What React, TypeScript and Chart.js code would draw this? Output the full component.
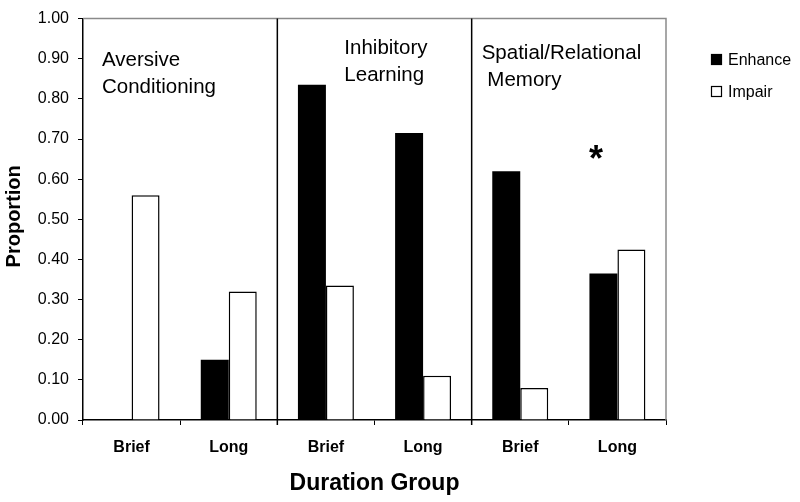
import React, { useEffect, useRef } from 'react';
import { Chart, registerables } from 'chart.js';

Chart.register(...registerables);

const categories = ['Brief', 'Long', 'Brief', 'Long', 'Brief', 'Long'];
const enhance = [0, 0.15, 0.835, 0.715, 0.62, 0.365];
const impair = [0.56, 0.32, 0.335, 0.11, 0.08, 0.425];
const seriesNames = ['Enhance', 'Impair'];
const groupNames = [
  ['Aversive', 'Conditioning'],
  ['Inhibitory', 'Learning'],
  ['Spatial/Relational', ' Memory'],
];
const yTicks = [0, 0.1, 0.2, 0.3, 0.4, 0.5, 0.6, 0.7, 0.8, 0.9, 1.0];
const yTitle = 'Proportion';
const xTitle = 'Duration Group';
const significance = [{ index: 5, value: 0.66, mark: '*' }];

const FONT = '"Liberation Sans", Arial, sans-serif';

const overlayPlugin = {
  id: 'overlay',
  afterDraw(chart: any) {
    const { ctx, chartArea } = chart;
    const x = chart.scales.x;
    const y = chart.scales.y;
    const { left, right, top, bottom } = chartArea;
    ctx.save();

    // top and right frame
    ctx.strokeStyle = '#8a8a8a';
    ctx.lineWidth = 1.5;
    ctx.beginPath();
    ctx.moveTo(left, top);
    ctx.lineTo(right, top);
    ctx.lineTo(right, bottom);
    ctx.stroke();

    // group dividers
    ctx.strokeStyle = '#000';
    ctx.lineWidth = 1.5;
    [1, 3].forEach((i) => {
      const px = (x.getPixelForValue(i) + x.getPixelForValue(i + 1)) / 2;
      ctx.beginPath();
      ctx.moveTo(px, top);
      ctx.lineTo(px, bottom + 5);
      ctx.stroke();
    });

    // group labels
    const labelLayout = [
      { dx: 19, v: 0.882 },
      { dx: 67, v: 0.912 },
      { dx: 10, v: 0.9 },
    ];
    ctx.fillStyle = '#000';
    ctx.font = `20.5px ${FONT}`;
    ctx.textAlign = 'left';
    ctx.textBaseline = 'alphabetic';
    groupNames.forEach((lines, g) => {
      const startIdx = g * 2;
      const gLeft =
        startIdx === 0
          ? left
          : (x.getPixelForValue(startIdx - 1) + x.getPixelForValue(startIdx)) / 2;
      const base = y.getPixelForValue(labelLayout[g].v);
      lines.forEach((t, li) => {
        ctx.fillText(t, gLeft + labelLayout[g].dx, base + li * 27);
      });
    });

    // significance marks
    ctx.font = `bold 36px ${FONT}`;
    ctx.textAlign = 'center';
    ctx.textBaseline = 'middle';
    significance.forEach((s) => {
      const cw = x.getPixelForValue(1) - x.getPixelForValue(0);
      ctx.fillText(s.mark, x.getPixelForValue(s.index) - cw * 0.22, y.getPixelForValue(s.value) + 6);
    });

    // y title
    ctx.save();
    ctx.font = `bold 20px ${FONT}`;
    ctx.textAlign = 'center';
    ctx.textBaseline = 'middle';
    ctx.translate(14, (top + bottom) / 2 - 3);
    ctx.rotate(-Math.PI / 2);
    ctx.fillText(yTitle, 0, 0);
    ctx.restore();

    // legend
    ctx.font = `16px ${FONT}`;
    ctx.textAlign = 'left';
    ctx.textBaseline = 'alphabetic';
    chart.data.datasets.forEach((ds: any, i: number) => {
      const bx = right + 45;
      const by = 54 + i * 32;
      ctx.fillStyle = ds.backgroundColor;
      ctx.fillRect(bx, by, 11, 11);
      ctx.strokeStyle = '#000';
      ctx.lineWidth = 1.2;
      ctx.strokeRect(bx + 0.5, by + 0.5, 10, 10);
      ctx.fillStyle = '#000';
      ctx.fillText(ds.label, bx + 17, by + 11);
    });

    ctx.restore();
  },
};

export default function App() {
  const ref = useRef<HTMLCanvasElement | null>(null);

  useEffect(() => {
    if (!ref.current) return;
    const chart = new Chart(ref.current, {
      type: 'bar',
      data: {
        labels: categories,
        datasets: [
          {
            label: seriesNames[0],
            data: enhance,
            backgroundColor: '#000',
            borderColor: '#000',
            borderWidth: 0,
            barPercentage: 1,
            categoryPercentage: 0.576,
          },
          {
            label: seriesNames[1],
            data: impair,
            backgroundColor: '#fff',
            borderColor: '#000',
            borderWidth: 1.5,
            barPercentage: 1,
            categoryPercentage: 0.576,
          },
        ],
      },
      options: {
        responsive: false,
        animation: false,
        devicePixelRatio: 1,
        layout: { padding: { top: 12, right: 134, left: 0, bottom: 0 } },
        plugins: {
          legend: { display: false },
          tooltip: { enabled: false },
        },
        scales: {
          x: {
            grid: {
              display: true,
              drawOnChartArea: false,
              drawTicks: true,
              tickLength: 5,
              color: '#000',
              offset: true,
            },
            border: { color: '#000', width: 1.5 },
            ticks: {
              color: '#000',
              font: { family: FONT, size: 16, weight: 'bold' },
              padding: 13,
              maxRotation: 0,
            },
            title: {
              display: true,
              text: xTitle,
              color: '#000',
              font: { family: FONT, size: 23, weight: 'bold' },
              padding: { top: 0, bottom: 5 },
            },
            afterFit(scale: any) {
              scale.height = 82;
            },
          },
          y: {
            min: 0,
            max: 1,
            afterBuildTicks(scale: any) {
              scale.ticks = yTicks.map((v) => ({ value: v }));
            },
            grid: {
              display: true,
              drawOnChartArea: false,
              drawTicks: true,
              tickLength: 5,
              color: '#000',
            },
            border: { color: '#000', width: 1.5 },
            ticks: {
              color: '#000',
              font: { family: FONT, size: 16 },
              padding: 9,
              callback: (v: any) => Number(v).toFixed(2),
            },
            title: { display: false },
            afterFit(scale: any) {
              scale.width = 83;
            },
          },
        },
      },
      plugins: [overlayPlugin],
    });
    return () => chart.destroy();
  }, []);

  return (
    <div style={{ position: 'fixed', left: 0, top: 0, width: 800, height: 502, background: '#fff' }}>
      <canvas ref={ref} width={800} height={502} />
    </div>
  );
}
